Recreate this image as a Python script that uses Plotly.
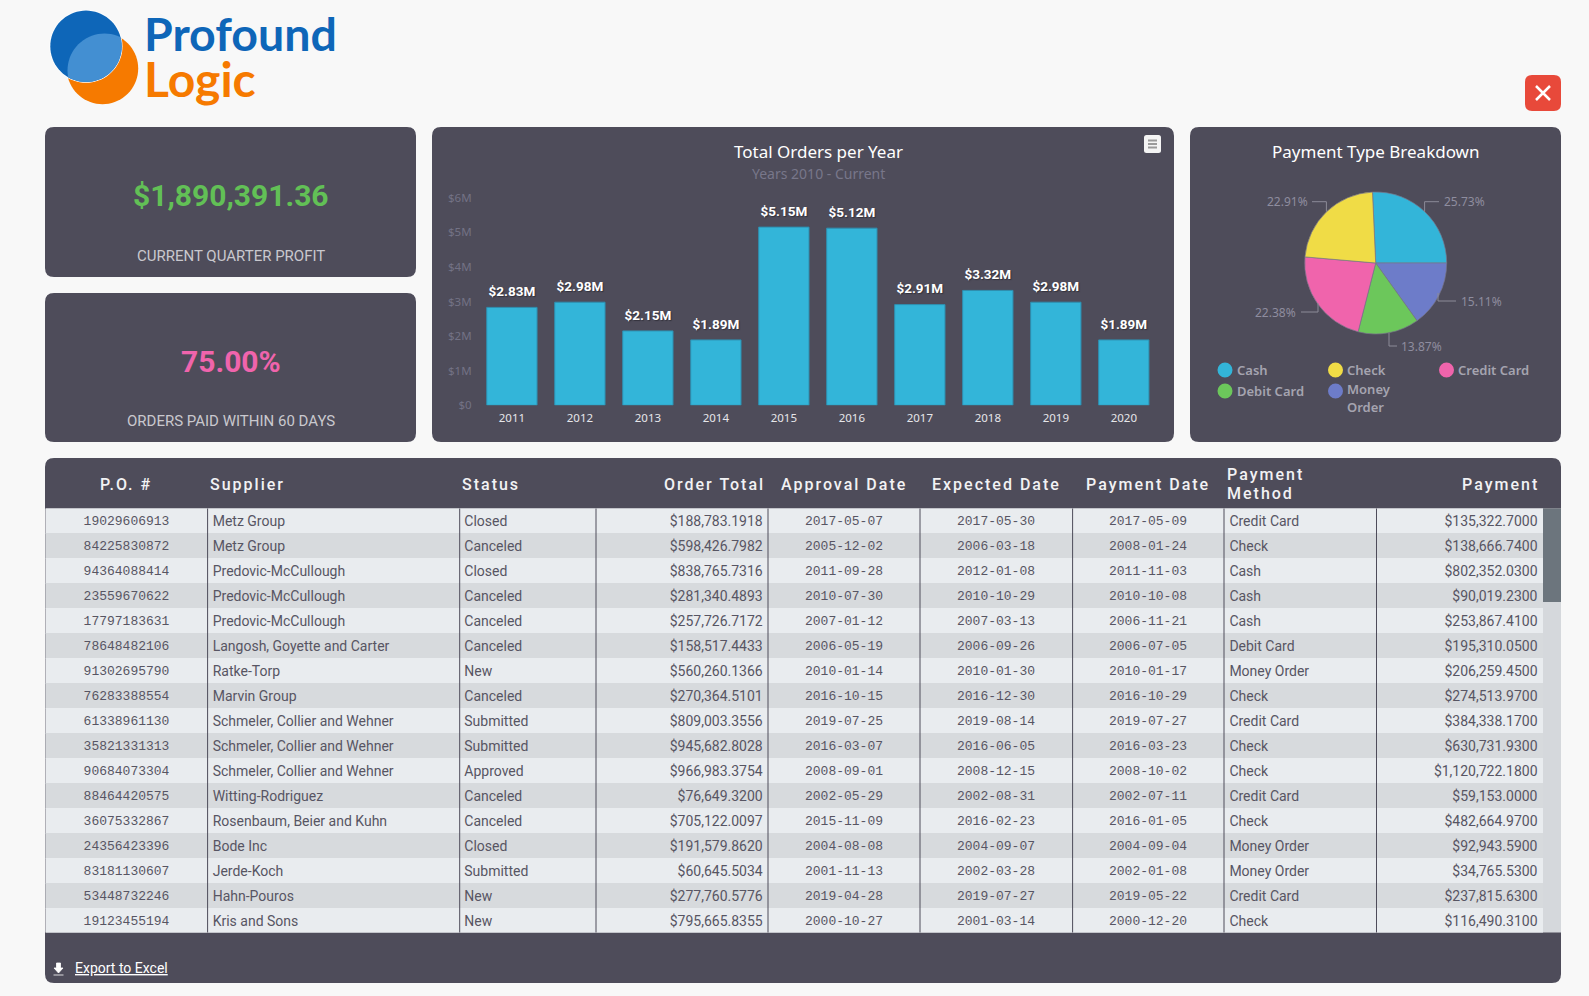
import json
import numpy as np
import plotly.graph_objects as go

W, H = 1589, 996

# ---------- data ----------
years = ["2011", "2012", "2013", "2014", "2015", "2016", "2017", "2018", "2019", "2020"]
orders_m = [2.83, 2.98, 2.15, 1.89, 5.15, 5.12, 2.91, 3.32, 2.98, 1.89]
y_ticks = [0, 1, 2, 3, 4, 5, 6]
y_tick_labels = ["$0", "$1M", "$2M", "$3M", "$4M", "$5M", "$6M"]

pay_types = ["Cash", "Money Order", "Debit Card", "Credit Card", "Check"]
pay_shares = [25.73, 15.11, 13.87, 22.38, 22.91]
pay_colors = ["#33B5D9", "#6D7CC9", "#6CC75B", "#F064AC", "#F0DC46"]

headers = ["P.O. #", "Supplier", "Status", "Order Total", "Approval Date",
           "Expected Date", "Payment Date", "Payment", "Method", "Payment"]

po = ["19029606913", "84225830872", "94364088414", "23559670622", "17797183631", "78648482106",
      "91302695790", "76283388554", "61338961130", "35821331313", "90684073304", "88464420575",
      "36075332867", "24356423396", "83181130607", "53448732246", "19123455194"]
supplier = ["Metz Group", "Metz Group", "Predovic-McCullough", "Predovic-McCullough", "Predovic-McCullough",
            "Langosh, Goyette and Carter", "Ratke-Torp", "Marvin Group", "Schmeler, Collier and Wehner",
            "Schmeler, Collier and Wehner", "Schmeler, Collier and Wehner", "Witting-Rodriguez",
            "Rosenbaum, Beier and Kuhn", "Bode Inc", "Jerde-Koch", "Hahn-Pouros", "Kris and Sons"]
status = ["Closed", "Canceled", "Closed", "Canceled", "Canceled", "Canceled", "New", "Canceled", "Submitted",
          "Submitted", "Approved", "Canceled", "Canceled", "Closed", "Submitted", "New", "New"]
order_total = ["$188,783.1918", "$598,426.7982", "$838,765.7316", "$281,340.4893", "$257,726.7172",
               "$158,517.4433", "$560,260.1366", "$270,364.5101", "$809,003.3556", "$945,682.8028",
               "$966,983.3754", "$76,649.3200", "$705,122.0097", "$191,579.8620", "$60,645.5034",
               "$277,760.5776", "$795,665.8355"]
approval = ["2017-05-07", "2005-12-02", "2011-09-28", "2010-07-30", "2007-01-12", "2006-05-19", "2010-01-14",
            "2016-10-15", "2019-07-25", "2016-03-07", "2008-09-01", "2002-05-29", "2015-11-09", "2004-08-08",
            "2001-11-13", "2019-04-28", "2000-10-27"]
expected = ["2017-05-30", "2006-03-18", "2012-01-08", "2010-10-29", "2007-03-13", "2006-09-26", "2010-01-30",
            "2016-12-30", "2019-08-14", "2016-06-05", "2008-12-15", "2002-08-31", "2016-02-23", "2004-09-07",
            "2002-03-28", "2019-07-27", "2001-03-14"]
pay_date = ["2017-05-09", "2008-01-24", "2011-11-03", "2010-10-08", "2006-11-21", "2006-07-05", "2010-01-17",
            "2016-10-29", "2019-07-27", "2016-03-23", "2008-10-02", "2002-07-11", "2016-01-05", "2004-09-04",
            "2002-01-08", "2019-05-22", "2000-12-20"]
method = ["Credit Card", "Check", "Cash", "Cash", "Cash", "Debit Card", "Money Order", "Check", "Credit Card",
          "Check", "Check", "Credit Card", "Check", "Money Order", "Money Order", "Credit Card", "Check"]
payment = ["$135,322.7000", "$138,666.7400", "$802,352.0300", "$90,019.2300", "$253,867.4100", "$195,310.0500",
           "$206,259.4500", "$274,513.9700", "$384,338.1700", "$630,731.9300", "$1,120,722.1800", "$59,153.0000",
           "$482,664.9700", "$92,943.5900", "$34,765.5300", "$237,815.6300", "$116,490.3100"]

# ---------- styles ----------
BG = "#F8F8F8"
PANEL = "#4E4C5A"
DIM = "#8E8D9F"
SOFT = "#C9C8CE"
ROW_A = "#E9ECEF"
ROW_B = "#D7DADD"
TXT = "#575563"
SANS = "Roboto"
CHART = "Noto Sans"
MONO = "Liberation Mono"


def rr(x0, y0, x1, y1, r):
    return (f"M{x0+r},{y0} H{x1-r} Q{x1},{y0} {x1},{y0+r} V{y1-r} Q{x1},{y1} {x1-r},{y1} "
            f"H{x0+r} Q{x0},{y1} {x0},{y1-r} V{y0+r} Q{x0},{y0} {x0+r},{y0} Z")


shapes, notes = [], []


def path(d, fill=None, line=None, lw=0, layer="above"):
    shapes.append(dict(type="path", path=d, xref="x", yref="y", fillcolor=fill or "rgba(0,0,0,0)",
                       line=dict(color=line or "rgba(0,0,0,0)", width=lw), layer=layer))


def note(x, y, text, size, color, family=CHART, anchor="center", weight=None):
    notes.append(dict(x=x, y=y, xref="x", yref="y", text=text, showarrow=False, xanchor=anchor,
                      yanchor="middle", borderpad=0, align="left" if anchor == "left" else anchor,
                      font=dict(size=size, color=color, family=family, weight=weight)))


# panels
for box in [(45, 127, 416, 277), (45, 293, 416, 442), (432, 127, 1174, 442),
            (1190, 127, 1561, 442), (45, 458, 1561, 983)]:
    path(rr(*box, 9), fill=PANEL, layer="below")
path("M45.5,508.5 H1543 V932.5 H45.5 Z", fill=ROW_A, layer="below")

# logo
t = np.linspace(0, 2 * np.pi, 73)
def poly(pts):
    return "M" + " L".join(f"{a:.2f},{b:.2f}" for a, b in pts) + " Z"
path(poly(zip(102.5 + 35.7 * np.cos(t), 68.5 + 35.7 * np.sin(t))), fill="#F67A00", layer="below")
path(poly(zip(86 + 36.5 * np.cos(t), 46.3 + 36.5 * np.sin(t))), fill="#FFFFFF", layer="below")
path(poly(zip(86 + 35.7 * np.cos(t), 46.3 + 35.7 * np.sin(t))), fill="#0E66B8", layer="below")
lens = [(a, b) for a, b in zip(86 + 35.7 * np.cos(t), 46.3 + 35.7 * np.sin(t))
        if (a - 104.5) ** 2 + (b - 70.5) ** 2 <= 37 ** 2]
lens2 = [(a, b) for a, b in zip(104.5 + 37 * np.cos(t), 70.5 + 37 * np.sin(t))
         if (a - 86) ** 2 + (b - 46.3) ** 2 <= 35.7 ** 2]
pts = np.array(lens + lens2)
c = pts.mean(axis=0)
pts = pts[np.argsort(np.arctan2(pts[:, 1] - c[1], pts[:, 0] - c[0]))]
path(poly(pts), fill="#438FD2", layer="below")
note(142.5, 32.5, "Profound", 46.5, "#0E66B8", "Lato", "left", 700)
note(142.5, 78.5, "Logic", 48, "#F67A00", "Lato", "left", 700)

# close button
path(rr(1525, 75, 1561, 111, 7), fill="#E8493A")
path("M1536,86 L1550,100 M1550,86 L1536,100", line="#FFFFFF", lw=2.5)

# KPI cards
note(230.5, 195, "$1,890,391.36", 30, "#62C056", SANS, weight=700)
note(230.5, 255.5, "CURRENT QUARTER PROFIT", 15, SOFT, SANS)
note(230.5, 361, "75.00%", 30, "#F064AC", SANS, weight=700)
note(230.5, 420.5, "ORDERS PAID WITHIN 60 DAYS", 15, SOFT, SANS)

# chart titles
note(818, 151, "Total Orders per Year", 17, "#FFFFFF")
note(818, 173, "Years 2010 - Current", 14, "#78778A")
note(1375.5, 151, "Payment Type Breakdown", 17, "#FFFFFF")
path(rr(1144, 135, 1161, 153, 2.5), fill="#F4F4F4")
for yy in (140.5, 144, 147.5):
    path(f"M1148,{yy} H1157", line="#9A9A9A", lw=2)

# pie leaders and labels (label text from pay_shares)
leaders = {
    "Cash": ("M1424.6,211.7 V201.7 H1439", 1442.7, 201.7, "left"),
    "Money Order": ("M1438,293 V301 H1456", 1460, 301, "left"),
    "Debit Card": ("M1389,333 V346 H1397", 1400, 346, "left"),
    "Credit Card": ("M1318,303 V312 H1301", 1297, 312, "right"),
    "Check": ("M1326.4,211.7 V201.7 H1312", 1308.5, 201.7, "right"),
}
for name, share in zip(pay_types, pay_shares):
    d, lx, ly, anc = leaders[name]
    path(d, line="#8C8B98", lw=1)
    note(lx, ly, f"{share:.2f}%", 12, DIM, anchor=anc)

# pie legend
legend_spots = {"Cash": (1225, 370), "Check": (1335.5, 370), "Credit Card": (1446.5, 370),
                "Debit Card": (1225, 391), "Money Order": (1335.5, 391)}
for name, col in zip(pay_types, pay_colors):
    lx, ly = legend_spots[name]
    shapes.append(dict(type="circle", xref="x", yref="y", x0=lx - 7.5, x1=lx + 7.5, y0=ly - 7.5, y1=ly + 7.5,
                       fillcolor=col, line=dict(width=0)))
    if name == "Money Order":
        note(lx + 10.5, ly - 2, "Money", 13, "#A5A4B0", CHART, "left", 600)
        note(lx + 10.5, ly + 15.5, "Order", 13, "#A5A4B0", CHART, "left", 600)
    else:
        note(lx + 10.5, ly, name, 13, "#A5A4B0", CHART, "left", 600)

# table header
HDR = "#F2F2F4"
header_spots = [(126, 484, "center"), (209.2, 484, "left"), (461, 484, "left"), (765.8, 484, "right"),
                (844, 484, "center"), (996, 484, "center"), (1148, 484, "center"),
                (1226, 474.4, "left"), (1226, 493.6, "left"), (1539.5, 484, "right")]
for txt, (hx, hy, anc) in zip(headers, header_spots):
    note(hx, hy, txt, 16, HDR, SANS, anc, 500)

# table furniture
for xs in (207.6, 459.7, 596, 768, 920, 1072.6, 1224, 1376.5):
    shapes.append(dict(type="line", xref="x", yref="y", x0=xs, x1=xs, y0=508.5, y1=932.5,
                       line=dict(color=PANEL, width=1)))
path("M1543,508.5 H1561 V932.5 H1543 Z", fill="#D5D8DC")
path("M1543,508.5 H1561 V602 H1543 Z", fill="#6C757D")

# export link
path("M56.5,963 H60.5 V968 H63 L58.5,973 L54,968 H56.5 Z M53.5,975 H63.5", fill="#FFFFFF", line="#FFFFFF", lw=0.8)
note(74, 967.5, "<u>Export to Excel</u>", 14, "#FFFFFF", SANS, "left")

# ---------- traces ----------
fig = go.Figure()
# page axis carrying the furniture
fig.add_trace(go.Scatter(x=[0, W], y=[0, H], mode="none", xaxis="x", yaxis="y", hoverinfo="skip", showlegend=False))

fig.add_trace(go.Bar(x=years, y=orders_m, xaxis="x2", yaxis="y2",
                     marker=dict(color="#33B5D9", line=dict(color="#2E8FB0", width=1)),
                     hoverinfo="skip", showlegend=False))
fig.add_trace(go.Scatter(x=years, y=orders_m, xaxis="x2", yaxis="y2", mode="markers+text",
                         marker=dict(size=11, opacity=0), text=[f"${v:.2f}M" for v in orders_m],
                         textposition="top center", cliponaxis=False,
                         textfont=dict(size=13.5, color="#FFFFFF", family=SANS, weight=700,
                                       shadow="1px 1px 1px #33323C"),
                         hoverinfo="skip", showlegend=False))

fig.add_trace(go.Pie(labels=pay_types, values=pay_shares, sort=False, direction="clockwise", rotation=-2.6,
                     textinfo="none", hoverinfo="skip", showlegend=False,
                     marker=dict(colors=pay_colors, line=dict(color="#77768A", width=0.7)),
                     domain=dict(x=[(1375.7 - 71) / W, (1375.7 + 71) / W], y=[1 - (263 + 71) / H, 1 - (263 - 71) / H])))

rows = list(range(len(po)))
fig.add_trace(go.Bar(y=rows, x=[1543 - 45.5] * len(rows), base=45.5, orientation="h", width=1.04,
                     marker=dict(color=[ROW_A if r % 2 == 0 else ROW_B for r in rows], line=dict(width=0)),
                     xaxis="x3", yaxis="y3", hoverinfo="skip", showlegend=False))
columns = [(po, 126.5, "middle center", MONO, 13), (supplier, 212.7, "middle right", SANS, 14),
           (status, 464.3, "middle right", SANS, 14), (order_total, 762.7, "middle left", SANS, 14),
           (approval, 844, "middle center", MONO, 13), (expected, 996, "middle center", MONO, 13),
           (pay_date, 1148, "middle center", MONO, 13), (method, 1229.4, "middle right", SANS, 14),
           (payment, 1537.5, "middle left", SANS, 14)]
for vals, cx, pos, fam, sz in columns:
    fig.add_trace(go.Scatter(x=[cx] * len(vals), y=[r + 0.04 for r in rows], text=vals, mode="text", textposition=pos,
                             textfont=dict(family=fam, size=sz, color=TXT), xaxis="x3", yaxis="y3",
                             hoverinfo="skip", showlegend=False))

hidden = dict(visible=False, fixedrange=True, automargin=False)
fig.update_layout(
    width=W, height=H, margin=dict(l=0, r=0, t=0, b=0), paper_bgcolor=BG, plot_bgcolor="rgba(0,0,0,0)",
    showlegend=False, bargap=0.26, hovermode=False,
    xaxis=dict(domain=[0, 1], range=[0, W], **hidden),
    yaxis=dict(domain=[0, 1], range=[H, 0], **hidden),
    xaxis2=dict(domain=[477.9 / W, 1157.8 / W], anchor="y2", type="category", range=[-0.5, 9.5],
                showgrid=False, zeroline=False,
                showline=False, ticks="outside", ticklen=2, tickcolor="rgba(0,0,0,0)", automargin=False,
                tickfont=dict(size=11.5, color="#E6E6EA", family=CHART), fixedrange=True),
    yaxis2=dict(domain=[1 - 405.3 / H, 1 - 197.7 / H], anchor="x2", range=[0, 6], tickvals=y_ticks,
                ticktext=y_tick_labels, showgrid=False, zeroline=False, showline=False,
                ticks="outside", ticklen=3, tickcolor="rgba(0,0,0,0)", automargin=False,
                tickfont=dict(size=11.5, color="#737285", family=CHART), fixedrange=True),
    xaxis3=dict(domain=[45.5 / W, 1543 / W], range=[45.5, 1543], anchor="y3", **hidden),
    yaxis3=dict(domain=[1 - 932.5 / H, 1 - 508.5 / H], range=[16.46, -0.5], anchor="x3", **hidden),
    shapes=shapes, annotations=notes,
)

spaced = json.dumps(headers)
post = ("document.documentElement.style.margin='0';document.body.style.margin='0';"
        f"document.body.style.background='{BG}';document.body.style.overflow='hidden';"
        f"var H={spaced};document.querySelectorAll('.annotation-text').forEach(function(t){{"
        "if(H.indexOf(t.textContent)>=0&&parseFloat(t.style.fontSize)==16)"
        "{t.style.letterSpacing='2px';}});")
fig.write_html("out.html", post_script=post, config={"displayModeBar": False})
